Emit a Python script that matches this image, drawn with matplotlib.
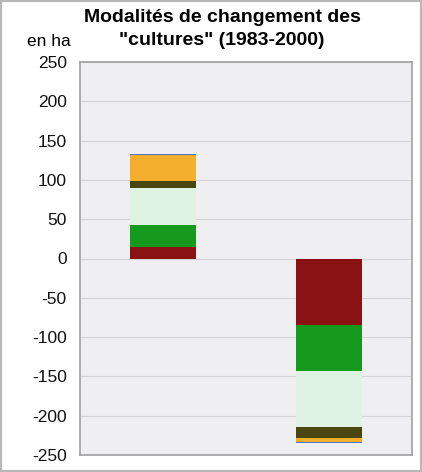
import numpy as np
import matplotlib.pyplot as plt

plt.rcParams['font.family'] = ['Liberation Sans', 'DejaVu Sans']
plt.rcParams['axes.unicode_minus'] = False

# Composantes des changements (ha), empilées depuis 0
groupes = ['gains', 'pertes']
rouge = [14, -85]
vert = [28, -58]
vert_pale = [48, -72]
olive = [9, -13]
orange = [33, -6]
bleu = [1, -1]

series = [rouge, vert, vert_pale, olive, orange, bleu]
couleurs = ['#8b1212', '#169a1e', '#dff3e2', '#4a4612', '#f2ae2c', '#4a78c8']

fig = plt.figure(figsize=(4.22, 4.72), dpi=100)
fig.patch.set_facecolor('white')
ax = fig.add_axes([80 / 422, 17 / 472, 332 / 422, 393 / 472])
ax.set_facecolor('#efeff1')

x = np.array([0.5, 1.5])
base = np.zeros(2)
for vals, c in zip(series, couleurs):
    vals = np.array(vals, dtype=float)
    ax.bar(x, vals, width=0.4, bottom=base, color=c, edgecolor='none', zorder=3)
    base = base + vals

ax.set_xlim(0, 2)
ax.set_ylim(-250, 250)
ax.set_yticks(np.arange(-250, 251, 50))
ax.set_xticks([])
ax.tick_params(axis='y', length=0, labelsize=12.5, pad=9.5, colors='#111111')
ax.grid(axis='y', color='#d4d4d8', linewidth=0.8, zorder=0)
for s in ax.spines.values():
    s.set_color('#a0a0a0')
    s.set_linewidth(1.2)

fig.text(222 / 422, 1 - 29 / 472, 'Modalités de changement des\n"cultures" (1983-2000)',
         ha='center', va='center', fontsize=14, fontweight='bold', linespacing=1.5)
fig.text(49 / 422, 1 - 42 / 472, 'en ha', ha='center', va='center', fontsize=12.5)

# cadre extérieur gris
fig.patches.append(plt.Rectangle((0, 0), 1, 1, transform=fig.transFigure,
                                 fill=False, edgecolor='#b8b8b8', linewidth=3))

fig.savefig('out.png', dpi=100)
